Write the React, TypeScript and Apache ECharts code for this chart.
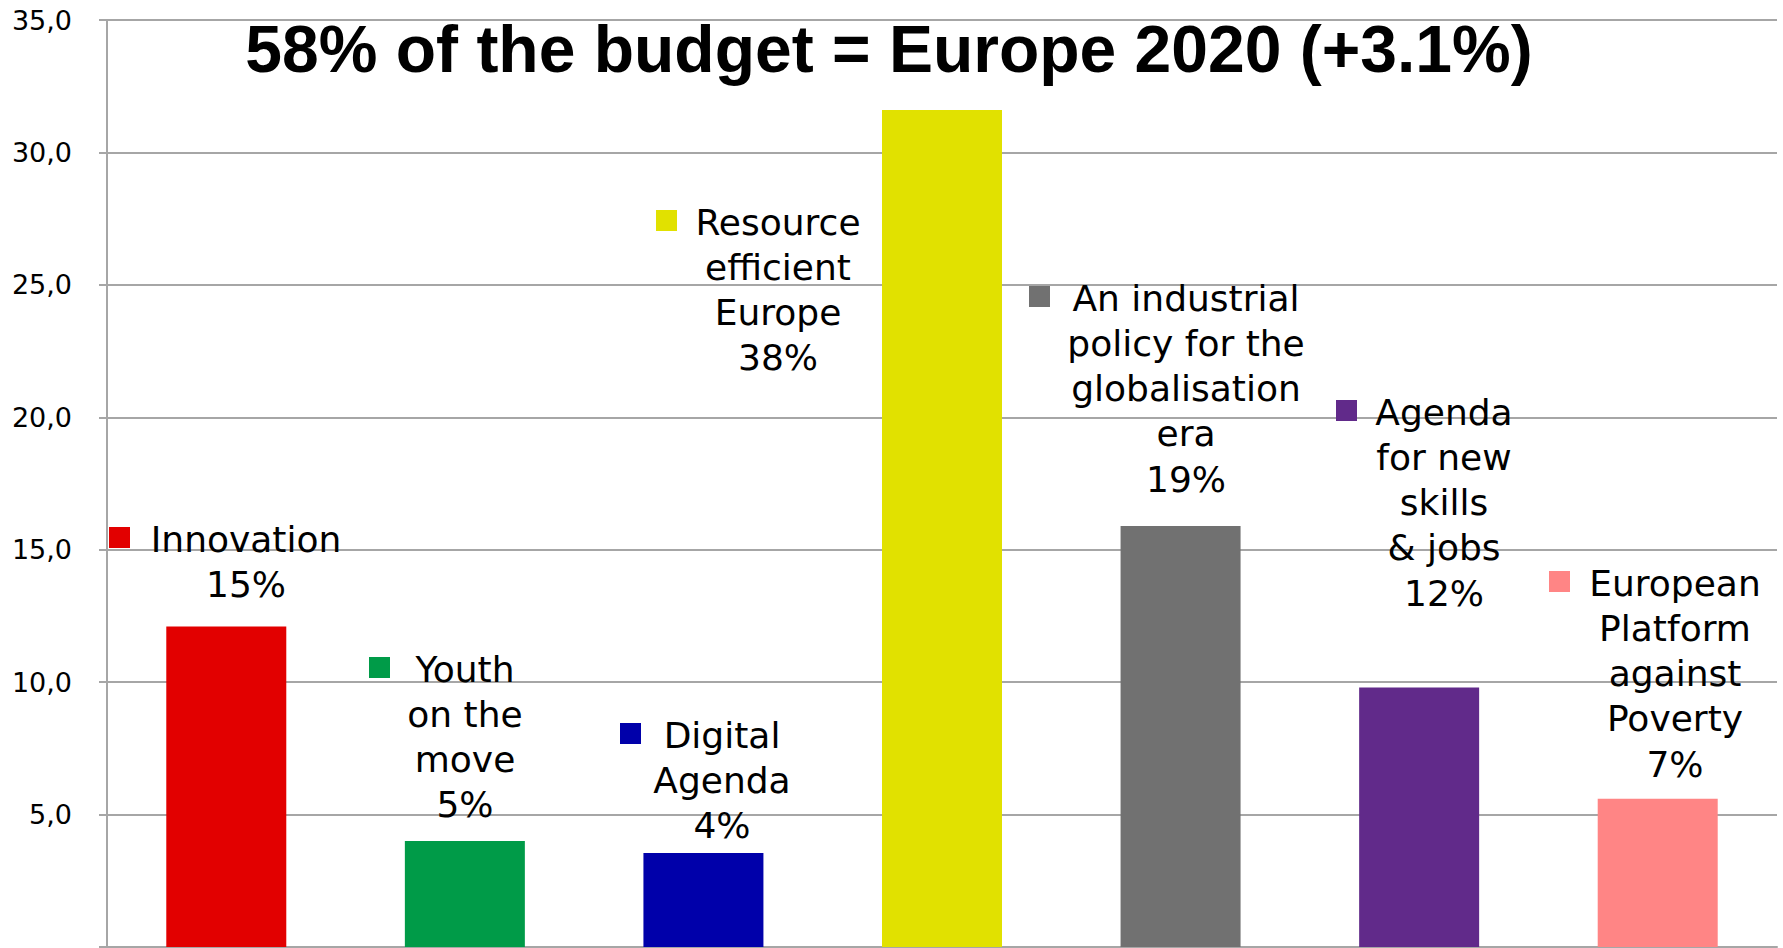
import React, { useEffect, useRef } from "react";
import * as echarts from "echarts";

// ---- data ----
const categories = [
  "Innovation",
  "Youth on the move",
  "Digital Agenda",
  "Resource efficient Europe",
  "An industrial policy for the globalisation era",
  "Agenda for new skills & jobs",
  "European Platform against Poverty",
];
const values = [12.1, 4.0, 3.55, 31.6, 15.9, 9.8, 5.6];
const shares = ["15%", "5%", "4%", "38%", "19%", "12%", "7%"];
const labelLines = [
  ["Innovation"],
  ["Youth", "on the", "move"],
  ["Digital", "Agenda"],
  ["Resource", "efficient", "Europe"],
  ["An industrial", "policy for the", "globalisation", "era"],
  ["Agenda", "for new", "skills", "& jobs"],
  ["European", "Platform", "against", "Poverty"],
];
const yTicks = [0, 5, 10, 15, 20, 25, 30, 35];
const titleText = "58% of the budget = Europe 2020 (+3.1%)";

// ---- styles / layout ----
const colors = ["#E20000", "#009B48", "#0000AA", "#E1E100", "#717171", "#612A8A", "#FF8585"];
// annotation layout: marker left x, text centre x, first baseline y
const labelLayout = [
  { mx: 109, cx: 246, b0: 552 },
  { mx: 369, cx: 465, b0: 682 },
  { mx: 620, cx: 722, b0: 748 },
  { mx: 656, cx: 778, b0: 235 },
  { mx: 1029, cx: 1186, b0: 311 },
  { mx: 1336, cx: 1444, b0: 425 },
  { mx: 1549, cx: 1675, b0: 596 },
];
const LINE_H = 45.3;
const FONT = "36px 'DejaVu Sans', Verdana, sans-serif";

export default function App() {
  const ref = useRef<HTMLDivElement>(null);

  useEffect(() => {
    if (!ref.current) return;
    const chart = echarts.init(ref.current, null, { renderer: "svg" });

    const graphics: any[] = [];
    graphics.push({
      type: "text",
      x: 889,
      y: 49,
      z: 100,
      style: {
        text: titleText,
        font: "bold 66px 'Liberation Sans', Arial, sans-serif",
        fill: "#000",
        textAlign: "center",
        textVerticalAlign: "middle",
        align: "center",
        verticalAlign: "middle",
      },
    });
    labelLines.forEach((lines, i) => {
      const lay = labelLayout[i];
      const all = [...lines, shares[i]];
      graphics.push({
        type: "rect",
        z: 100,
        shape: { x: lay.mx, y: lay.b0 - 25, width: 21, height: 21 },
        style: { fill: colors[i] },
      });
      all.forEach((t, j) => {
        graphics.push({
          type: "text",
          z: 100,
          x: lay.cx,
          y: lay.b0 + j * LINE_H - 13,
          style: {
            text: t,
            font: FONT,
            fill: "#000",
            textAlign: "center",
            textVerticalAlign: "middle",
            align: "center",
            verticalAlign: "middle",
          },
        });
      });
    });

    chart.setOption({
      animation: false,
      backgroundColor: "#ffffff",
      grid: { left: 107, right: 6, top: 20, bottom: 1, containLabel: false },
      xAxis: {
        type: "category",
        data: categories,
        axisLine: { show: true, lineStyle: { color: "#a6a6a6", width: 2 } },
        axisTick: { show: false },
        axisLabel: { show: false },
      },
      yAxis: {
        type: "value",
        min: yTicks[0],
        max: yTicks[yTicks.length - 1],
        interval: 5,
        axisLine: { show: true, lineStyle: { color: "#a6a6a6", width: 2 } },
        axisTick: { show: true, length: 8, lineStyle: { color: "#a6a6a6", width: 2 } },
        splitLine: { show: true, lineStyle: { color: "#a6a6a6", width: 2 } },
        axisLabel: {
          margin: 35,
          color: "#000",
          fontSize: 27,
          fontFamily: "DejaVu Sans",
          formatter: (v: number) => (v === 0 ? "" : v.toFixed(1).replace(".", ",")),
        },
      },
      series: [
        {
          type: "bar",
          barWidth: 120,
          data: values.map((v, i) => ({ value: v, itemStyle: { color: colors[i] } })),
        },
      ],
      graphic: graphics,
    });

    return () => chart.dispose();
  }, []);

  return (
    <div
      ref={ref}
      style={{ position: "fixed", left: 0, top: 0, width: 1783, height: 948, background: "#fff" }}
    />
  );
}
